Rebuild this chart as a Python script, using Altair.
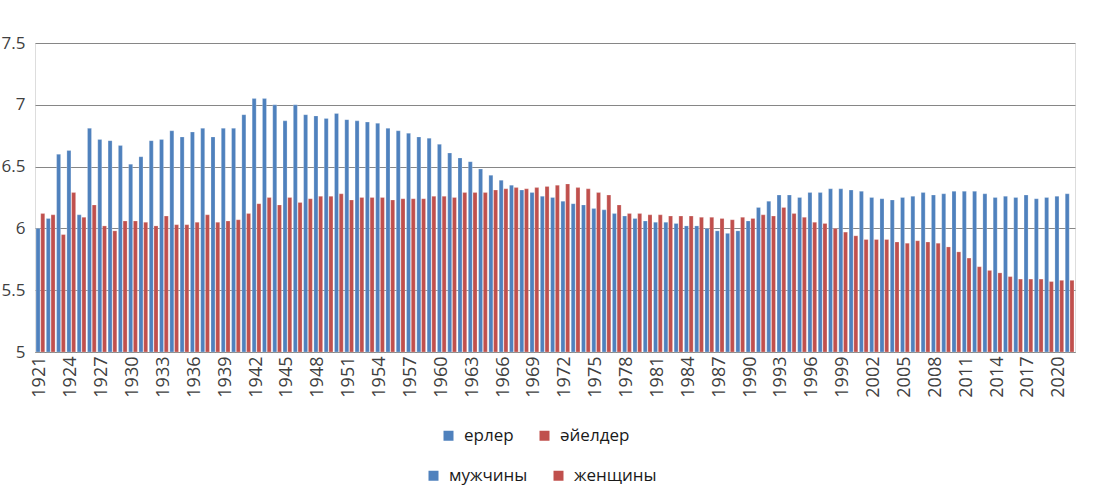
import altair as alt
import pandas as pd

years = list(range(1921, 2022))

men = [
    6.00, 6.08, 6.60, 6.63, 6.11, 6.81, 6.72, 6.71, 6.67, 6.52,
    6.58, 6.71, 6.72, 6.79, 6.74, 6.78, 6.81, 6.74, 6.81, 6.81,
    6.92, 7.05, 7.05, 7.00, 6.87, 7.00, 6.92, 6.91, 6.89, 6.93,
    6.88, 6.87, 6.86, 6.85, 6.81, 6.79, 6.77, 6.74, 6.73, 6.68,
    6.61, 6.57, 6.54, 6.48, 6.43, 6.39, 6.35, 6.31, 6.29, 6.26,
    6.25, 6.22, 6.20, 6.19, 6.16, 6.15, 6.12, 6.10, 6.08, 6.06,
    6.05, 6.05, 6.04, 6.02, 6.02, 6.00, 5.98, 5.96, 5.98, 6.06,
    6.17, 6.22, 6.27, 6.27, 6.25, 6.29, 6.29, 6.32, 6.32, 6.31,
    6.30, 6.25, 6.24, 6.23, 6.25, 6.26, 6.29, 6.27, 6.28, 6.30,
    6.30, 6.30, 6.28, 6.25, 6.26, 6.25, 6.27, 6.24, 6.25, 6.26,
    6.28,
]

women = [
    6.12, 6.11, 5.95, 6.29, 6.09, 6.19, 6.02, 5.98, 6.06, 6.06,
    6.05, 6.02, 6.10, 6.03, 6.03, 6.05, 6.11, 6.05, 6.06, 6.07,
    6.12, 6.20, 6.25, 6.19, 6.25, 6.21, 6.24, 6.26, 6.26, 6.28,
    6.23, 6.25, 6.25, 6.25, 6.23, 6.24, 6.24, 6.24, 6.26, 6.26,
    6.25, 6.29, 6.29, 6.29, 6.31, 6.32, 6.33, 6.32, 6.33, 6.34,
    6.35, 6.36, 6.33, 6.32, 6.29, 6.27, 6.19, 6.12, 6.12, 6.11,
    6.11, 6.10, 6.10, 6.10, 6.09, 6.09, 6.08, 6.07, 6.09, 6.08,
    6.11, 6.10, 6.17, 6.12, 6.09, 6.05, 6.04, 6.00, 5.97, 5.94,
    5.91, 5.91, 5.91, 5.89, 5.88, 5.90, 5.89, 5.88, 5.85, 5.81,
    5.76, 5.69, 5.66, 5.64, 5.61, 5.59, 5.59, 5.59, 5.57, 5.58,
    5.58,
]

kz_names = ["ерлер", "әйелдер"]
ru_names = ["мужчины", "женщины"]
colors = ["#4F81BD", "#C0504D"]

tick_years = [1921, 1924, 1927, 1930, 1933, 1936, 1939, 1942, 1945, 1948,
              1951, 1954, 1957, 1960, 1963, 1966, 1969, 1972, 1975, 1978,
              1981, 1984, 1987, 1990, 1993, 1996, 1999, 2002, 2005, 2008,
              2011, 2014, 2017, 2020]
y_ticks = [5, 5.5, 6, 6.5, 7, 7.5]

rows = []
for i, yr in enumerate(years):
    rows.append({"year": yr, "value": men[i], "kz": kz_names[0], "ru": ru_names[0]})
    rows.append({"year": yr, "value": women[i], "kz": kz_names[1], "ru": ru_names[1]})
df = pd.DataFrame(rows)

FONT = "Open Sans"

x_enc = alt.X(
    "year:O",
    scale=alt.Scale(paddingInner=0.15, paddingOuter=0.1),
    axis=alt.Axis(
        values=tick_years, title=None, labelAngle=270, labelFontSize=18,
        labelColor="#404040", labelFont=FONT, ticks=False, domain=True,
        domainColor="#868686", domainWidth=1, labelPadding=4, grid=False,
    ),
)
y_enc = alt.Y(
    "value:Q",
    scale=alt.Scale(domain=[5, 7.5], zero=False, nice=False),
    axis=alt.Axis(
        values=y_ticks, format="~g", title=None, labelFontSize=17,
        labelColor="#404040", labelFont=FONT, ticks=False, domain=False,
        grid=True, gridColor="#868686", gridWidth=1, labelPadding=10,
    ),
)
xoff = alt.XOffset("kz:N", scale=alt.Scale(domain=kz_names, paddingInner=0.15))

base = alt.Chart(df)

legend_common = dict(
    title=None, orient="none", direction="horizontal", symbolType="square",
    symbolSize=100, symbolStrokeWidth=0, symbolOpacity=1, labelFontSize=17,
    labelFont=FONT, labelColor="#1a1a1a", columnPadding=22, labelOffset=7,
)

bars = base.mark_bar(stroke="white", strokeWidth=0.4, strokeOpacity=0.6).encode(
    x=x_enc,
    xOffset=xoff,
    y=y_enc,
    y2=alt.datum(5),
    color=alt.Color(
        "kz:N",
        scale=alt.Scale(domain=kz_names, range=colors),
        legend=alt.Legend(legendX=405, legendY=384, **legend_common),
    ),
)

ghost = base.mark_bar(opacity=0).encode(
    x=x_enc,
    xOffset=xoff,
    y=y_enc,
    y2=alt.datum(5),
    color=alt.Color(
        "ru:N",
        scale=alt.Scale(domain=ru_names, range=colors),
        legend=alt.Legend(legendX=390, legendY=424, **legend_common),
    ),
)

chart = alt.layer(bars, ghost).resolve_scale(color="independent").properties(
    width=1040,
    height=309,
    padding={"left": 35, "top": 43, "right": 25, "bottom": 147},
    autosize=alt.AutoSizeParams(type="none"),
).configure_view(stroke=None).configure(background="white")

chart.save("out.html", embed_options={"renderer": "svg", "actions": False})
